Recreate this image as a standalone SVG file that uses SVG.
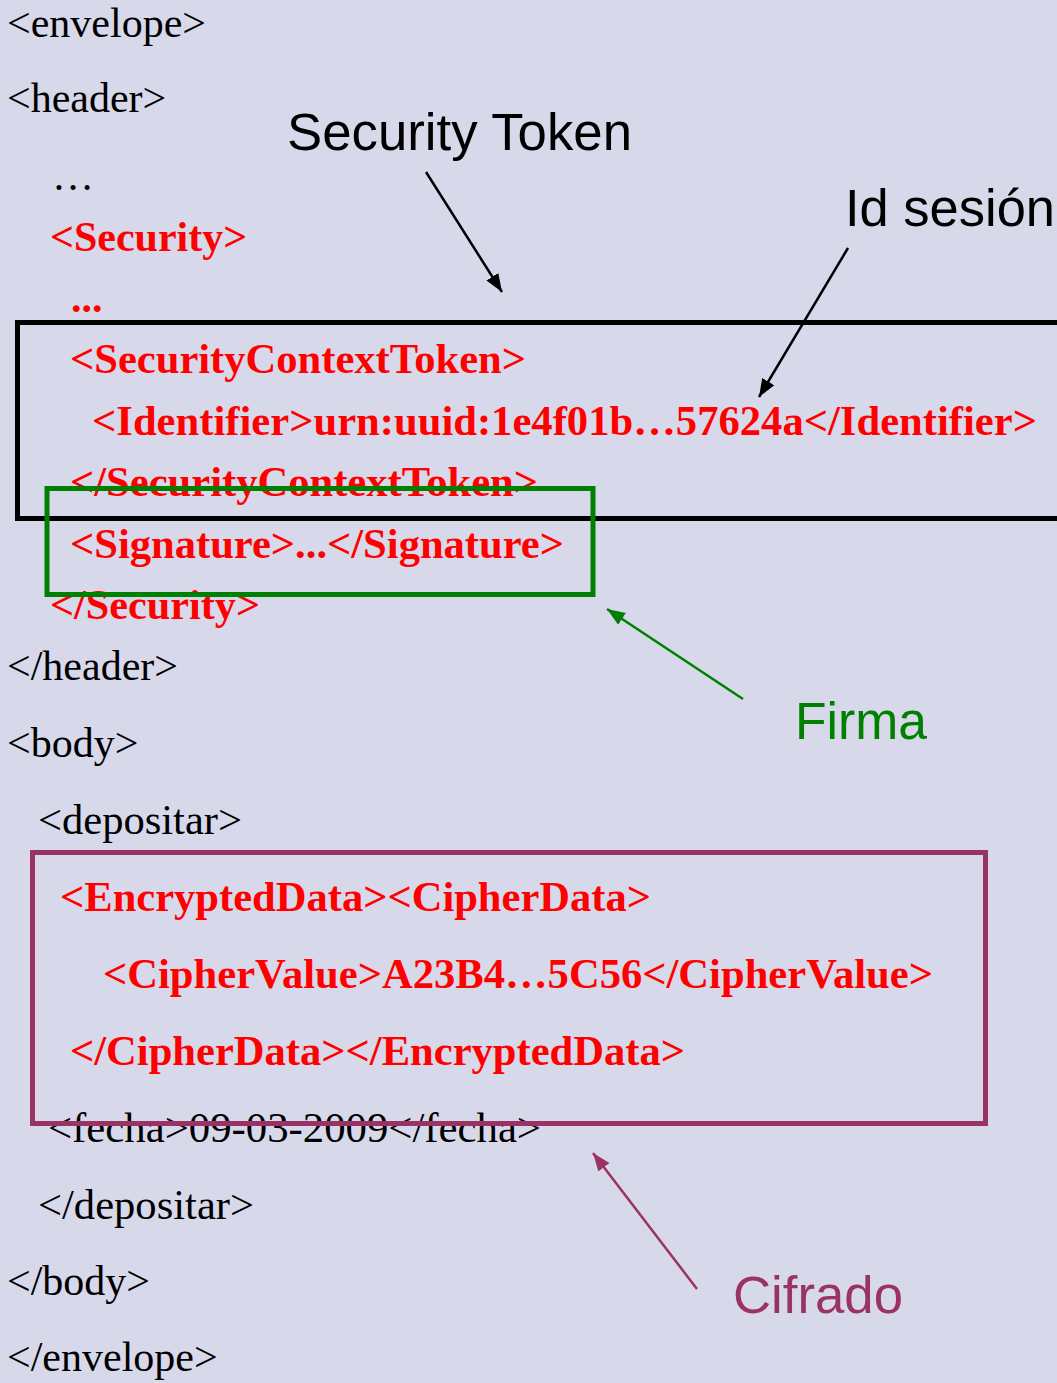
<svg xmlns="http://www.w3.org/2000/svg" width="1057" height="1383" viewBox="0 0 1057 1383">
<style>
.code{font-family:"Liberation Serif","Times New Roman",serif;font-size:42px;fill:#000}
.red{font-family:"Liberation Serif","Times New Roman",serif;font-size:42px;font-weight:bold;fill:#ff0000}
.lbl{font-family:"Liberation Sans",Arial,sans-serif;font-size:51px}
.box{fill:none;stroke-width:5}
.conn{fill:none;stroke-width:2.5}
</style>
<defs>
<marker id="ahK" markerUnits="userSpaceOnUse" markerWidth="20" markerHeight="16" refX="18" refY="8" orient="auto"><path d="M0,1 L18,8 L0,15 Z" fill="#000"/></marker>
<marker id="ahG" markerUnits="userSpaceOnUse" markerWidth="20" markerHeight="16" refX="18" refY="8" orient="auto"><path d="M0,1 L18,8 L0,15 Z" fill="#008000"/></marker>
<marker id="ahP" markerUnits="userSpaceOnUse" markerWidth="20" markerHeight="16" refX="18" refY="8" orient="auto"><path d="M0,1 L18,8 L0,15 Z" fill="#993366"/></marker>
</defs>
<rect width="1057" height="1383" fill="#d8d8eb"/>
<g id="code">
<text class="code" x="7" y="37">&lt;envelope&gt;</text>
<text class="code" x="7" y="112">&lt;header&gt;</text>
<text class="code" x="52" y="190">…</text>
<text class="red" x="50" y="251">&lt;Security&gt;</text>
<text class="red" x="71" y="312">...</text>
<text class="red" x="70" y="373" textLength="456" lengthAdjust="spacingAndGlyphs">&lt;SecurityContextToken&gt;</text>
<text class="red" x="92" y="435" textLength="945" lengthAdjust="spacingAndGlyphs">&lt;Identifier&gt;urn:uuid:1e4f01b…57624a&lt;/Identifier&gt;</text>
<text class="red" x="70" y="496" textLength="468" lengthAdjust="spacingAndGlyphs">&lt;/SecurityContextToken&gt;</text>
<text class="red" x="70" y="558" textLength="494" lengthAdjust="spacingAndGlyphs">&lt;Signature&gt;...&lt;/Signature&gt;</text>
<text class="red" x="50" y="619" textLength="210" lengthAdjust="spacingAndGlyphs">&lt;/Security&gt;</text>
<text class="code" x="7" y="680">&lt;/header&gt;</text>
<text class="code" x="7" y="757">&lt;body&gt;</text>
<text class="code" x="38" y="834" textLength="204" lengthAdjust="spacingAndGlyphs">&lt;depositar&gt;</text>
<text class="red" x="60" y="911" textLength="591" lengthAdjust="spacingAndGlyphs">&lt;EncryptedData&gt;&lt;CipherData&gt;</text>
<text class="red" x="103" y="988" textLength="830" lengthAdjust="spacingAndGlyphs">&lt;CipherValue&gt;A23B4…5C56&lt;/CipherValue&gt;</text>
<text class="red" x="70" y="1065" textLength="615" lengthAdjust="spacingAndGlyphs">&lt;/CipherData&gt;&lt;/EncryptedData&gt;</text>
<text class="code" x="48" y="1142" textLength="493" lengthAdjust="spacingAndGlyphs">&lt;fecha&gt;09-03-2009&lt;/fecha&gt;</text>
<text class="code" x="38" y="1219" textLength="216" lengthAdjust="spacingAndGlyphs">&lt;/depositar&gt;</text>
<text class="code" x="7" y="1295">&lt;/body&gt;</text>
<text class="code" x="7" y="1371">&lt;/envelope&gt;</text>
</g>
<g id="box-token"><rect class="box" x="17.5" y="322.5" width="1060" height="196" stroke="#000"/></g>
<g id="box-firma"><rect class="box" x="47" y="488.5" width="546" height="106" stroke="#008000" stroke-width="4.5"/></g>
<g id="box-cifrado"><rect class="box" x="32.5" y="852.5" width="953" height="271" stroke="#993366"/></g>
<g id="label-token"><text class="lbl" x="287" y="150" fill="#000" textLength="345" lengthAdjust="spacingAndGlyphs">Security Token</text></g>
<g id="label-id"><text class="lbl" x="845" y="226" fill="#000" textLength="210" lengthAdjust="spacingAndGlyphs">Id sesión</text></g>
<g id="label-firma"><text class="lbl" x="795" y="739" fill="#008000" textLength="132" lengthAdjust="spacingAndGlyphs">Firma</text></g>
<g id="label-cifrado"><text class="lbl" x="733" y="1313" fill="#993366" textLength="170" lengthAdjust="spacingAndGlyphs">Cifrado</text></g>
<g id="connectors">
<line class="conn" x1="426" y1="172" x2="502" y2="292" stroke="#000" marker-end="url(#ahK)"/>
<line class="conn" x1="848" y1="248" x2="759" y2="397" stroke="#000" marker-end="url(#ahK)"/>
<line class="conn" x1="743" y1="699" x2="607" y2="609" stroke="#008000" marker-end="url(#ahG)"/>
<line class="conn" x1="697" y1="1289" x2="593" y2="1153" stroke="#993366" marker-end="url(#ahP)"/>
</g>
</svg>
